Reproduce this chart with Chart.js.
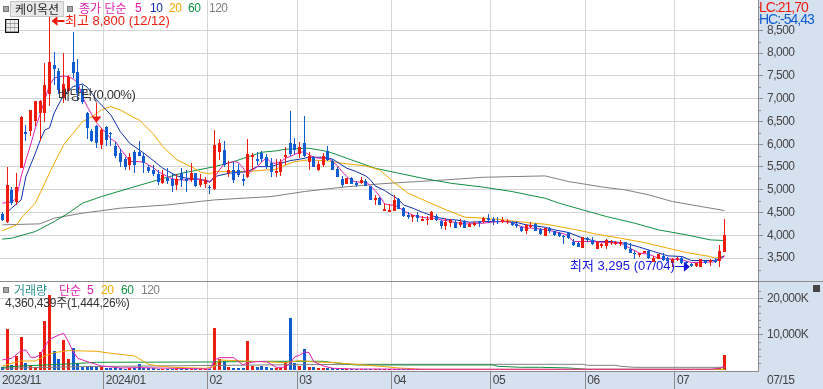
<!DOCTYPE html>
<html lang="ko">
<head>
<meta charset="utf-8">
<title>케이옥션</title>
<script src="https://cdn.jsdelivr.net/npm/chart.js@4"></script>
<style>
html,body{margin:0;padding:0;background:#d6e1f0;overflow:hidden;}
#wrap{position:relative;width:823px;height:389px;overflow:hidden;font-family:"Liberation Sans","Noto Sans CJK KR",sans-serif;font-size:12px;letter-spacing:-0.5px;}
canvas{position:absolute;left:0;display:block;}
#c1{top:0;} #c2{top:281px;}
.t{position:absolute;white-space:nowrap;line-height:14px;height:14px;}
.sq{position:absolute;width:4px;height:4px;background:#a8a8a8;border:1px solid #777;}
#btn{position:absolute;left:10px;top:1px;width:52px;height:14px;background:#e8e8e8;border:1px solid #c4c4c4;text-align:center;line-height:14px;color:#222;font-family:"Noto Sans CJK KR",sans-serif;font-size:12px;letter-spacing:0;}
#ico{position:absolute;left:5px;top:19px;width:12px;height:12px;border:1px solid #111;background:
 repeating-linear-gradient(90deg,#bbb 0 1px,#eee 1px 4px),#eee;}
#ico:after{content:"";position:absolute;left:0;right:0;top:0;bottom:0;background:repeating-linear-gradient(0deg,rgba(150,150,150,.9) 0 1px,transparent 1px 4px);}
#exp{position:absolute;left:813px;top:285px;width:7px;height:7px;background:#444;}
</style>
</head>
<body>
<div id="wrap">
<canvas id="c1" width="823" height="281"></canvas>
<canvas id="c2" width="823" height="108"></canvas>
<div class="sq" style="left:3px;top:6px"></div>
<div id="btn">케이옥션</div>
<div class="sq" style="left:67px;top:6px"></div>
<div class="t" style="left:79px;top:1px;color:#e020b0;font-family:'Noto Sans CJK KR';letter-spacing:0">종가 단순</div>
<div class="t" style="left:135px;top:1px;color:#e020b0">5</div>
<div class="t" style="left:150px;top:1px;color:#1030b0">10</div>
<div class="t" style="left:169px;top:1px;color:#f0a800">20</div>
<div class="t" style="left:188px;top:1px;color:#109040">60</div>
<div class="t" style="left:209px;top:1px;color:#808080">120</div>
<div id="ico"></div>
<div class="sq" style="left:3px;top:287px"></div>
<div class="t" style="left:14px;top:283px;color:#2a9090;font-family:'Noto Sans CJK KR';letter-spacing:0">거래량</div>
<div class="t" style="left:59px;top:283px;color:#e020b0;font-family:'Noto Sans CJK KR';letter-spacing:0">단순</div>
<div class="t" style="left:87px;top:283px;color:#e020b0">5</div>
<div class="t" style="left:101px;top:283px;color:#f0a800">20</div>
<div class="t" style="left:121px;top:283px;color:#109040">60</div>
<div class="t" style="left:141px;top:283px;color:#808080">120</div>
<div class="t" style="left:5px;top:296px;color:#333;letter-spacing:-0.25px">4,360,439주(1,444,26%)</div>
<div class="t" style="left:759px;top:0;color:#ee1c0e;font-size:14px;letter-spacing:-1px">LC:21,70</div>
<div class="t" style="left:759px;top:12px;color:#0f5cd0;font-size:14px;letter-spacing:-1px">HC:-54,43</div>
<div class="t" style="left:767px;top:373px;color:#444">07/15</div>
<div id="exp"></div>
</div>
<script>
// ---- data (candle order: oldest to newest) ----
const opens = [4470,4302,4997,4741,5486,6270,6291,6517,6693,6693,7103,7738,7614,7015,7175,7811,7592,7212,6686,6291,6408,5984,6386,6240,5969,5815,5677,5546,5824,5824,5743,5495,5436,5348,5158,5267,5232,5107,5363,5239,5217,5363,5107,5120,5060,5012,5837,5875,5370,5436,5436,5230,5289,5720,5670,5810,5710,5583,5377,5399,5721,6035,6006,5779,6035,5611,5714,5436,5545,5853,5640,5450,5231,5129,5260,5158,5158,5195,5092,4785,4822,4537,4522,4544,4800,4603,4449,4412,4449,4325,4347,4347,4434,4325,4208,4281,4303,4230,4317,4193,4237,4295,4295,4383,4354,4325,4295,4295,4295,4252,4193,4091,4193,4252,4149,3996,4171,4091,4061,3995,4047,3864,3842,3725,3952,3900,3703,3776,3769,3842,3805,3805,3849,3710,3608,3571,3608,3659,3425,3484,3550,3498,3403,3476,3513,3425,3374,3330,3316,3447,3425,3462,3447,3645];
const closes = [4340,5107,4706,5056,6592,6230,6752,6949,6940,7300,7804,7651,7190,7322,7482,7570,7125,6934,6350,6070,6020,6313,6094,6220,5743,5618,5495,5715,5546,5750,5583,5414,5348,5180,5326,5194,5092,5246,5217,5194,5363,5085,5217,5217,5040,5984,6022,5546,5430,5217,5326,5200,5780,5770,5640,5677,5510,5400,5413,5611,5765,5787,5875,5940,5743,5743,5509,5567,5750,5655,5436,5275,5107,5253,5129,5100,5217,5085,4778,4829,4668,4573,4559,4778,4588,4434,4398,4449,4383,4361,4361,4507,4339,4208,4303,4332,4171,4288,4171,4252,4266,4266,4383,4339,4325,4295,4339,4325,4237,4208,4106,4222,4222,4106,4032,4156,4105,4010,3988,3959,3952,3791,3740,3959,3900,3813,3864,3805,3900,3864,3864,3864,3710,3623,3586,3623,3652,3498,3498,3586,3462,3447,3484,3513,3389,3389,3330,3389,3476,3403,3462,3411,3660,4018];
const highs = [4520,5502,5070,5377,6620,6423,6760,6949,6960,7780,8800,8030,7670,8009,7520,8455,7870,7300,6700,6330,6430,6350,6400,6276,6040,5890,5720,5810,5870,6078,5810,5540,5546,5436,5436,5480,5370,5340,5470,5430,5580,5370,5340,5280,5110,6313,6116,6060,5640,5620,5560,5350,6116,5810,5830,5850,5790,5690,5670,5670,5933,6730,6145,6043,6620,5838,5743,5633,5816,5962,5670,5509,5304,5253,5275,5187,5275,5231,5092,4888,4836,4705,4690,4888,4815,4617,4522,4449,4522,4434,4420,4537,4464,4339,4376,4354,4339,4354,4339,4303,4317,4325,4398,4471,4412,4398,4398,4354,4325,4325,4208,4252,4295,4266,4164,4164,4193,4105,4083,4010,4069,3915,3864,3959,3974,3959,3879,3842,3930,3900,3886,3900,3864,3827,3659,3623,3652,3681,3550,3593,3623,3520,3498,3535,3535,3440,3389,3403,3484,3462,3476,3498,3790,4361];
const lows = [4320,4280,4668,4668,5480,6078,6182,6400,6078,6495,6840,7300,7103,6905,7125,7453,6950,6884,6116,6050,5920,5900,5960,5960,5700,5510,5436,5436,5377,5730,5377,5377,5300,5100,5120,5120,4960,4990,5060,4960,5180,5060,5060,5040,4910,5000,5655,5500,5290,5150,5290,5092,5260,5440,5540,5620,5458,5290,5290,5304,5546,5743,5787,5692,5714,5436,5494,5414,5509,5640,5436,5275,5056,5129,5129,5070,5129,5085,4778,4668,4661,4537,4522,4544,4573,4412,4361,4295,4295,4325,4237,4339,4317,4135,4120,4193,4157,4179,4164,4193,4208,4193,4281,4266,4237,4252,4266,4252,4208,4164,4076,4032,4164,4106,4018,3980,4047,3988,3959,3813,3915,3769,3740,3725,3864,3791,3703,3718,3703,3791,3791,3769,3681,3623,3476,3535,3608,3484,3411,3484,3447,3430,3301,3440,3374,3360,3295,3316,3300,3374,3330,3403,3295,3645];

const ma5Idx = [0,1,2,3,4,5,6,7,8,9,10,11,12,13,14,15,16,17,18,19,20,21,22,23,24,25,26,27,28,29,30,31,32,33,34,35,36,37,38,39,40,41,42,43,44,45,46,47,48,49,50,51,52,53,54,55,56,57,58,59,60,61,62,63,64,65,66,67,68,69,70,71,72,73,74,75,76,77,78,79,80,81,82,83,84,85,86,87,88,89,90,91,92,93,94,95,96,97,98,99,100,101,102,103,104,105,106,107,108,109,110,111,112,113,114,115,117,119,120,121,123,125,128,131,133,135,137,139,141,144,146,149,151,152,153];
const ma5Val = [4706,4720,4730,4815,5289,5655,5984,6357,6650,6971,7300,7453,7480,7497,7480,7432,7350,7043,6824,6642,6466,6350,6247,6116,6057,5896,5765,5618,5618,5618,5605,5546,5486,5398,5348,5289,5239,5217,5217,5217,5217,5239,5217,5217,5180,5289,5436,5567,5590,5618,5600,5480,5326,5436,5500,5618,5700,5590,5582,5619,5692,5728,5779,5816,5838,5765,5714,5692,5692,5692,5619,5524,5399,5290,5202,5173,5165,5180,5085,4983,4851,4690,4668,4661,4617,4537,4486,4442,4412,4398,4383,4376,4369,4339,4325,4303,4281,4266,4252,4252,4259,4266,4266,4281,4295,4295,4303,4303,4281,4230,4193,4164,4157,4157,4135,4120,4083,4032,3980,3864,3864,3864,3842,3827,3718,3608,3586,3498,3484,3462,3403,3411,3418,3476,3535];

const ma10Idx = [1,2,4,5,7,8,9,10,11,13,15,17,18,20,23,25,27,30,32,34,37,39,42,44,45,48,52,54,57,59,61,63,65,68,70,73,75,77,78,79,81,83,84,85,87,89,92,94,96,99,103,106,109,111,115,117,120,123,126,129,132,135,138,141,144,146,149,151,152,153];
const ma10Val = [4500,4600,4778,5289,5802,6078,6313,6357,6686,7081,7263,7322,7250,6971,6642,6276,6021,5802,5640,5473,5304,5254,5232,5166,5289,5363,5399,5508,5508,5582,5640,5670,5714,5714,5670,5472,5399,5304,5217,5085,4983,4851,4778,4668,4595,4507,4398,4354,4339,4288,4303,4303,4281,4230,4178,4120,4061,3937,3864,3864,3827,3740,3645,3550,3535,3447,3447,3447,3498,3550];

const ma20Idx = [0,3,4,7,9,11,13,15,17,19,21,23,25,28,29,32,34,37,40,42,44,45,49,52,56,58,60,62,65,69,72,77,80,83,86,90,94,98,102,106,111,115,116,121,126,131,136,141,145,150,151,153];
const ma20Val = [4098,4230,4377,4706,5144,5583,5984,6241,6495,6605,6752,6824,6752,6576,6532,6225,5947,5655,5508,5385,5348,5399,5399,5399,5436,5450,5545,5619,5655,5633,5582,5524,5436,5158,4924,4741,4559,4398,4376,4339,4281,4244,4229,4134,4025,3937,3842,3718,3623,3535,3498,3550];

const ma60Idx = [0,2,7,11,14,17,21,27,33,38,45,49,55,58,60,65,69,74,79,84,89,95,102,108,115,118,123,128,134,139,145,150,153];
const ma60Val = [3916,3938,4083,4302,4487,4706,4851,5035,5217,5363,5508,5618,5824,5853,5889,5911,5838,5655,5472,5363,5253,5143,5056,4961,4814,4705,4558,4412,4266,4120,4010,3900,3886];

const ma120Idx = [0,8,11,17,25,35,45,57,64,72,80,88,94,102,115,120,127,132,137,142,153];
const ma120Val = [4230,4252,4377,4487,4596,4668,4778,4851,4961,5056,5129,5180,5217,5275,5304,5180,5063,4997,4887,4741,4544];

const volumes = [833,11482,1389,3982,9260,1945,1389,833,5093,13705,20928,5371,3148,8426,3056,6112,2130,833,1204,1296,1296,1019,741,741,741,741,463,741,741,1760,741,648,741,463,463,463,463,463,556,370,370,370,370,370,370,11760,3056,2500,1019,648,648,648,8149,1204,926,1204,926,741,648,648,2400,14538,1945,1204,5926,926,926,556,556,741,556,463,370,370,370,370,370,370,300,463,463,370,370,370,300,280,280,280,280,280,280,280,280,280,280,280,280,280,280,280,280,280,280,280,280,280,280,280,280,280,280,280,280,280,280,280,280,280,280,500,280,280,280,280,280,280,280,280,280,280,280,280,280,280,280,280,280,280,280,280,280,280,280,280,280,280,280,280,280,280,280,280,650,4360];

const volMa5Idx = [0,2,4,5,6,7,8,9,10,12,13,14,15,16,18,21,25,29,36,44,45,46,49,51,52,54,56,58,60,61,62,63,64,65,66,68,70,75,90,120,150,152,153];
const volMa5Val = [2870,3333,5463,5648,3611,3611,4259,6574,8612,9815,10278,7963,5185,3333,2407,1204,648,741,556,370,2870,3518,3518,1481,2130,2407,2407,833,833,1945,3796,4167,5093,4908,2407,1204,556,370,300,280,280,600,1100];

const volMa20Idx = [0,2,4,7,9,11,14,17,20,23,28,30,31,33,36,43,45,46,60,63,66,71,72,81,84,89,153];
const volMa20Val = [1204,1945,2593,2593,3982,4908,5463,5371,5278,4723,3982,2407,1667,1204,833,556,1019,2870,2130,2685,2315,2130,1945,1019,648,278,278];

const volMa60Idx = [0,4,14,20,45,57,68,70,75,104,105,110,114,120,124,153];
const volMa60Val = [833,1204,1760,2222,2315,2500,2500,2130,1482,1482,1111,833,833,648,278,278];

const volMa120Idx = [0,17,57,75,123,124,130,131,134,153];
const volMa120Val = [556,1019,1500,1667,1667,1389,1389,1111,833,833];

const monthFirst = [0,22,44,63,83,104,124,143];
const monthLabels = ['2023/11','2024/01','02','03','04','05','06','07'];
const priceTicks = [3500,4000,4500,5000,5500,6000,6500,7000,7500,8000,8500];
const priceMinor = [3250,3750,4250,4750,5250,5750,6250,6750,7250,7750,8250,8750,9000];
const volTicks = [10000,20000];
const volMinor = [2000,4000,6000,8000,12000,14000,16000,18000,22000];
const highNote = '최고 8,800 (12/12)';
const lowNote = '최저 3,295 (07/04)';
const divNote = '배당락(0,00%)';
const highIdx = 10, lowIdx = 146, divIdx = 20;

// ---- styling ----
const RED='#ee1c0e', BLUE='#0f5cd0', MAG='#e020b0', NAVY='#1030b0', ORG='#f0a800', GRN='#109040', GRY='#808080';
const GRID='#d4d4d4', AXIS='#8c8c8c', TXT='#444';
const FONT={family:'"Liberation Sans","Noto Sans CJK KR",sans-serif',size:12};
const XMIN=-0.487, XMAX=160.11;
const up=opens.map((o,i)=>closes[i]>=o);
const col=up.map(u=>u?RED:BLUE);
const pts=(ix,v)=>ix.map((x,i)=>({x,y:v[i]}));
const line=(ix,v,c,order)=>({type:'line',data:pts(ix,v),borderColor:c,borderWidth:1,pointRadius:0,tension:0,order,fill:false});
const bar=(data,w,order)=>({type:'bar',data,backgroundColor:col,barThickness:w,grouped:false,order,inflateAmount:0,borderWidth:0});

const snap={id:'snap',
 beforeDraw(ch){ch.ctx.letterSpacing='-0.5px';const a=ch.chartArea,c=ch.ctx;c.save();c.fillStyle='#fff';c.fillRect(a.left,a.top,a.right-a.left,a.bottom-a.top);c.restore();},
 beforeDatasetsDraw(ch){
  ch.data.datasets.forEach((d,k)=>{
   if(d.type!=='bar')return;
   ch.getDatasetMeta(k).data.forEach(el=>{
    el.x=Math.floor(el.x)+0.5;
    let t=Math.round(Math.min(el.y,el.base)),b=Math.round(Math.max(el.y,el.base));
    if(b-t<1)b=t+1;
    el.y=t;el.base=b;el.height=b-t;
   });
  });
 }};

function minorTicks(ch,scale,vals){
 const c=ch.ctx;c.save();c.strokeStyle=AXIS;c.lineWidth=1;
 vals.forEach(v=>{const y=Math.round(scale.getPixelForValue(v))+0.5;
  if(y<0||y>ch.chartArea.bottom)return;
  c.beginPath();c.moveTo(758,y);c.lineTo(761,y);c.stroke();});
 c.restore();
}

const notes={id:'notes',afterDraw(ch){
 const c=ch.ctx,x=ch.scales.x,y=ch.scales.y;
 minorTicks(ch,y,priceMinor);
 c.save();
 c.font='13px '+FONT.family;c.letterSpacing='0px';c.textBaseline='middle';c.textAlign='left';
 // high
 const hx=x.getPixelForValue(highIdx),hy=y.getPixelForValue(highs[highIdx])+4.5;
 c.fillStyle=RED;c.strokeStyle=RED;
 c.beginPath();c.moveTo(hx+2,hy);c.lineTo(hx+8,hy-5);c.lineTo(hx+8,hy+5);c.closePath();c.fill();
 c.fillRect(hx+8,Math.round(hy)-1,7,2);
 c.fillText(highNote,65,21);
 // dividend
 const dx=Math.floor(x.getPixelForValue(divIdx))+0.5,dy=y.getPixelForValue(highs[divIdx])-2;
 c.fillRect(dx-0.5,dy-20,1,15);
 c.beginPath();c.moveTo(dx,dy);c.lineTo(dx-5,dy-6);c.lineTo(dx+5,dy-6);c.closePath();c.fill();
 c.fillStyle='#333';c.letterSpacing='-0.4px';c.fillText(divNote,58,95);c.letterSpacing='0px';
 // low
 const lx=x.getPixelForValue(lowIdx)-1.5,ly=y.getPixelForValue(lows[lowIdx])-0.8;
 c.fillStyle='#1414dc';
 c.beginPath();c.moveTo(lx,ly);c.lineTo(lx-6,ly-5);c.lineTo(lx-6,ly+5);c.closePath();c.fill();
 c.fillRect(lx-15,Math.round(ly)-1,9,1);
 c.fillText(lowNote,570,266);
 c.restore();
}};

const volDeco={id:'volDeco',afterDraw(ch){
 minorTicks(ch,ch.scales.y,volMinor);
 const c=ch.ctx;c.save();c.fillStyle=AXIS;c.fillRect(0,0,823,1);c.restore();
}};

const common={responsive:false,animation:false,events:[],devicePixelRatio:1,layout:{padding:0},plugins:{legend:{display:false},tooltip:{enabled:false},title:{display:false}}};
const noPad=s=>{s.paddingTop=0;s.paddingBottom=0;s.paddingLeft=0;s.paddingRight=0;};
const xScale=(labels)=>({type:'linear',min:XMIN,max:XMAX,offset:false,
 afterBuildTicks:s=>{s.ticks=monthFirst.map(i=>({value:i-0.5}));},
 afterFit:s=>{s.height=labels?18:0;noPad(s);},
 border:{display:!!labels,color:AXIS},
 grid:{offset:false,color:GRID,lineWidth:1,tickColor:AXIS,tickLength:labels?18:0,drawTicks:!!labels},
 ticks:{display:!!labels,autoSkip:false,maxRotation:0,minRotation:0,align:'start',padding:-16,labelOffset:2,color:TXT,font:FONT,
  callback:(v,i)=>monthLabels[i]}});
const yScale=(min,max,tv)=>({type:'linear',position:'right',min,max,offset:false,
 afterBuildTicks:s=>{s.ticks=tv.map(value=>({value}));},
 afterFit:s=>{s.width=65;noPad(s);},
 border:{display:true,color:AXIS},
 grid:{color:GRID,lineWidth:1,tickColor:AXIS,tickLength:5},
 ticks:{autoSkip:false,padding:4,color:TXT,font:FONT,crossAlign:'near',
  callback:v=>v.toLocaleString('en-US')+(tv===volTicks?'K':'')}});

new Chart(document.getElementById('c1'),{type:'bar',
 data:{datasets:[
  line(ma120Idx,ma120Val,GRY,6),line(ma60Idx,ma60Val,GRN,5),line(ma20Idx,ma20Val,ORG,4),line(ma10Idx,ma10Val,NAVY,3),line(ma5Idx,ma5Val,MAG,2),
  bar(opens.map((o,i)=>({x:i,y:[lows[i],highs[i]]})),1,1),
  bar(opens.map((o,i)=>({x:i,y:[o,closes[i]]})),3,0)
 ]},
 options:{...common,scales:{x:xScale(false),y:yScale(2998,9164,priceTicks)}},
 plugins:[snap,notes]});

new Chart(document.getElementById('c2'),{type:'bar',
 data:{datasets:[
  bar(volumes.map((v,i)=>({x:i,y:v})),3,9),
  line(volMa120Idx,volMa120Val,GRY,4),line(volMa60Idx,volMa60Val,GRN,3),line(volMa20Idx,volMa20Val,ORG,2),line(volMa5Idx,volMa5Val,MAG,1)
 ]},
 options:{...common,scales:{x:xScale(true),y:yScale(-194,24806,volTicks)}},
 plugins:[snap,volDeco]});
</script>
</body>
</html>
